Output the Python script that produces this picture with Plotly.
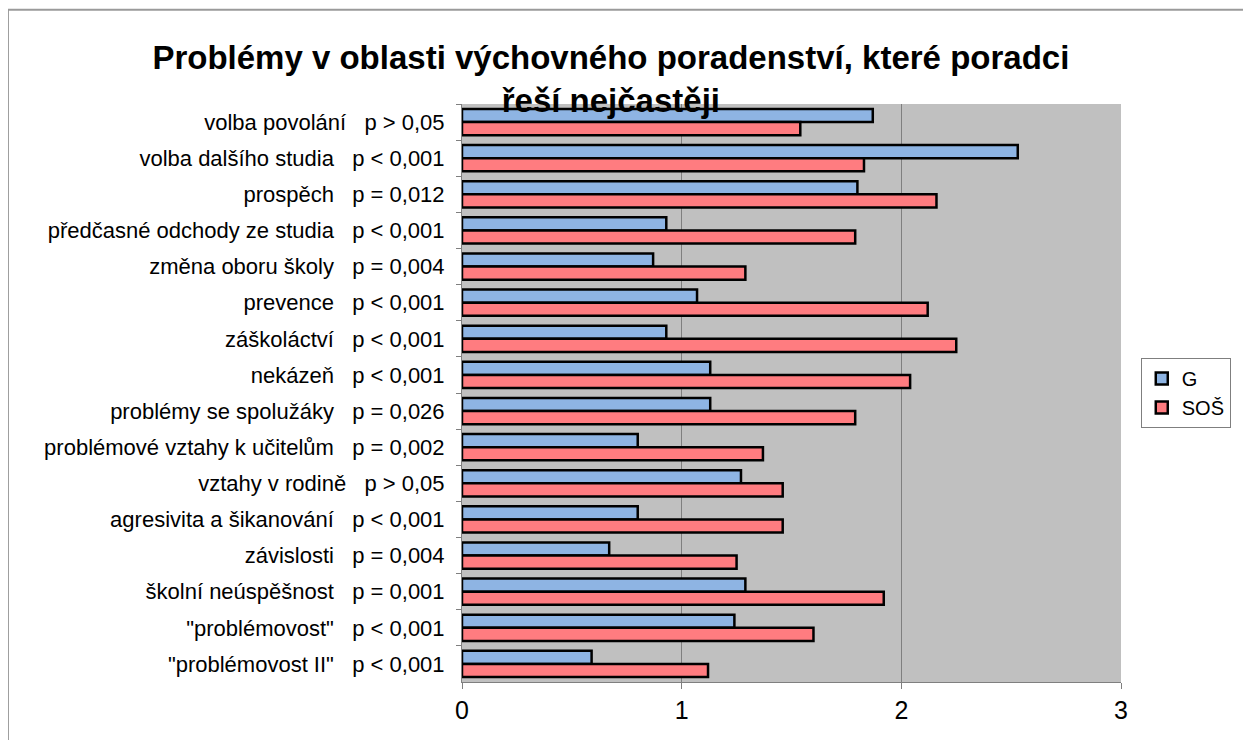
import plotly.graph_objects as go

categories = ['volba povolání', 'volba dalšího studia', 'prospěch', 'předčasné odchody ze studia',
              'změna oboru školy', 'prevence', 'záškoláctví', 'nekázeň', 'problémy se spolužáky',
              'problémové vztahy k učitelům', 'vztahy v rodině', 'agresivita a šikanování',
              'závislosti', 'školní neúspěšnost', '"problémovost"', '"problémovost II"']
p_values = ['p > 0,05', 'p < 0,001', 'p = 0,012', 'p < 0,001', 'p = 0,004', 'p < 0,001',
            'p < 0,001', 'p < 0,001', 'p = 0,026', 'p = 0,002', 'p > 0,05', 'p < 0,001',
            'p = 0,004', 'p = 0,001', 'p < 0,001', 'p < 0,001']
g_values = [1.87, 2.53, 1.80, 0.93, 0.87, 1.07, 0.93, 1.13, 1.13, 0.80, 1.27, 0.80, 0.67, 1.29, 1.24, 0.59]
sos_values = [1.54, 1.83, 2.16, 1.79, 1.29, 2.12, 2.25, 2.04, 1.79, 1.37, 1.46, 1.46, 1.25, 1.92, 1.60, 1.12]
x_ticks = [0, 1, 2, 3]

labels = [c + '   ' + p for c, p in zip(categories, p_values)]
font = 'Liberation Sans, Arial, sans-serif'

fig = go.Figure()
fig.add_trace(go.Bar(name='G', y=labels, x=g_values, orientation='h',
                     marker=dict(color='#8eb4e3', line=dict(color='black', width=2.5))))
fig.add_trace(go.Bar(name='SOŠ', y=labels, x=sos_values, orientation='h',
                     marker=dict(color='#ff7c80', line=dict(color='black', width=2.5))))

fig.update_xaxes(range=[0, 3], tickvals=x_ticks, showgrid=True, gridcolor='#7f7f7f', gridwidth=1,
                 ticks='outside', ticklen=6, tickcolor='#7f7f7f', showline=True, linecolor='#7f7f7f',
                 tickfont=dict(size=25, color='black', family=font), zeroline=False)
fig.update_yaxes(autorange='reversed', ticks='outside', ticklen=5, tickcolor='#7f7f7f',
                 tickson='boundaries', showline=True, linecolor='#7f7f7f', showgrid=False,
                 tickfont=dict(size=22, color='black', family=font), ticklabelstandoff=12)

# page body adds an 8px margin, so the figure is sized a little smaller
fig.update_layout(
    width=1243, height=732,
    title=dict(text='<b>Problémy v oblasti výchovného poradenství, které poradci<br>řeší nejčastěji</b>',
               xref='container', x=0.485, xanchor='center', yref='container', y=0.917, yanchor='top',
               font=dict(size=33, color='black', family=font)),
    barmode='group', bargap=0.27, bargroupgap=0.0,
    plot_bgcolor='#c0c0c0', paper_bgcolor='white',
    margin=dict(l=454, r=130, t=96, b=58),
    showlegend=True,
    legend=dict(x=1.03, y=0.5, xanchor='left', yanchor='middle', bgcolor='white',
                bordercolor='#7f7f7f', borderwidth=1, traceorder='normal',
                font=dict(size=20, color='black', family=font)),
    shapes=[dict(type='rect', xref='paper', yref='paper', x0=-0.689, x1=1.3, y0=-0.2, y1=1.163,
                 line=dict(color='#9a9a9a', width=2), layer='below')],
)

fig.write_html("out.html")
